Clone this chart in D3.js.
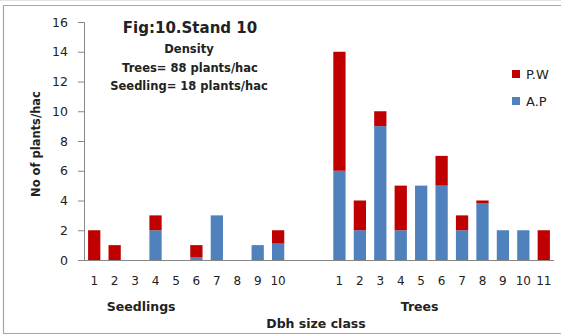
<!DOCTYPE html>
<html>
<head>
<meta charset="utf-8">
<script src="https://cdn.jsdelivr.net/npm/d3@7"></script>
<style>
  html, body { margin: 0; padding: 0; background: #fff; }
  svg { display: block; }
  text { font-family: "DejaVu Sans", "Noto Sans", sans-serif; fill: #222; }
</style>
</head>
<body>
<svg id="chart" width="561" height="334"></svg>
<script>
// Dbh size classes for each group
const seedlingClasses = ["1", "2", "3", "4", "5", "6", "7", "8", "9", "10"];
const treeClasses = ["1", "2", "3", "4", "5", "6", "7", "8", "9", "10", "11"];

// Plants per hectare by species
const seedlingAP = [0, 0, 0, 2, 0, 0.2, 3, 0, 1, 1.1];
const seedlingPW = [2, 1, 0, 1, 0, 0.8, 0, 0, 0, 0.9];
const treeAP = [6, 2, 9, 2, 5, 5, 2, 3.8, 2, 2, 0];
const treePW = [8, 2, 1, 3, 0, 2, 1, 0.2, 0, 0, 2];

const yTicks = [0, 2, 4, 6, 8, 10, 12, 14, 16];
const seriesNames = ["P.W", "A.P"];
const colors = { "A.P": "#4F81BD", "P.W": "#C00000" };
const gapSlots = 2;

// Build one row per slot on the category axis (blank slots separate the groups)
const rows = [];
seedlingClasses.forEach((c, i) => rows.push({ key: "s" + i, label: c, "A.P": seedlingAP[i], "P.W": seedlingPW[i] }));
for (let g = 0; g < gapSlots; g++) rows.push({ key: "g" + g, label: "", "A.P": 0, "P.W": 0 });
treeClasses.forEach((c, i) => rows.push({ key: "t" + i, label: c, "A.P": treeAP[i], "P.W": treePW[i] }));

const svg = d3.select("#chart");

// Outer frame
svg.append("line").attr("x1", 0).attr("x2", 561).attr("y1", 0.5).attr("y2", 0.5).attr("stroke", "#e4e4e4");
svg.append("path")
  .attr("d", "M561,5.5 H3.5 V333.5 H561")
  .attr("fill", "none").attr("stroke", "#a6a6a6").attr("stroke-width", 1.2);

const plot = { left: 84, right: 554, top: 22, bottom: 260 };

const x = d3.scaleBand()
  .domain(rows.map(d => d.key))
  .range([plot.left, plot.right])
  .paddingInner(0.4)
  .paddingOuter(0.2);

const y = d3.scaleLinear().domain([0, 16]).range([plot.bottom, plot.top]);

// Stacked bars: A.P at the base, P.W on top
const stack = d3.stack().keys(["A.P", "P.W"]);
const layers = stack(rows);

svg.append("g").selectAll("g")
  .data(layers)
  .join("g")
  .attr("fill", d => colors[d.key])
  .selectAll("rect")
  .data(d => d.filter(p => p[1] - p[0] > 0))
  .join("rect")
  .attr("x", d => x(d.data.key))
  .attr("width", x.bandwidth())
  .attr("y", d => y(d[1]))
  .attr("height", d => y(d[0]) - y(d[1]));

// Y axis
const yAxis = d3.axisLeft(y).tickValues(yTicks).tickSize(6).tickPadding(10);
const gy = svg.append("g").attr("transform", `translate(${plot.left},0)`).call(yAxis);
gy.select(".domain").attr("stroke", "#868686");
gy.selectAll(".tick line").attr("stroke", "#868686");
gy.selectAll(".tick text").attr("font-size", 12.5).attr("fill", "#222")
  .style("font-family", "'DejaVu Sans', sans-serif");

// X axis
const xAxis = d3.axisBottom(x).tickSize(0).tickPadding(16)
  .tickFormat(k => rows.find(r => r.key === k).label);
const gx = svg.append("g").attr("transform", `translate(0,${plot.bottom})`).call(xAxis);
gx.select(".domain").attr("stroke", "#868686").attr("d", `M${plot.left},0.5H${plot.right}`);
gx.selectAll(".tick text").attr("font-size", 12).attr("fill", "#222")
  .style("font-family", "'DejaVu Sans', sans-serif");

// Group labels under the categories
const centerOf = prefix => {
  const keys = rows.filter(r => r.key.startsWith(prefix)).map(r => r.key);
  return (x(keys[0]) + x(keys[keys.length - 1]) + x.bandwidth()) / 2;
};
svg.append("text").attr("x", centerOf("s") - 45).attr("y", 311)
  .attr("text-anchor", "middle").attr("font-size", 12.5).attr("font-weight", "bold")
  .text("Seedlings");
svg.append("text").attr("x", centerOf("t") - 22).attr("y", 311)
  .attr("text-anchor", "middle").attr("font-size", 12.5).attr("font-weight", "bold")
  .text("Trees");
svg.append("text").attr("x", 316).attr("y", 328)
  .attr("text-anchor", "middle").attr("font-size", 12.5).attr("font-weight", "bold")
  .text("Dbh size class");

// Y axis title
svg.append("text")
  .attr("transform", "translate(40,144) rotate(-90)")
  .attr("text-anchor", "middle").attr("font-size", 11.5).attr("font-weight", "bold")
  .text("No of plants/hac");

// Title block
const title = svg.append("g").attr("text-anchor", "middle");
title.append("text").attr("x", 190).attr("y", 33).attr("font-size", 15).attr("font-weight", "bold").text("Fig:10.Stand 10");
title.append("text").attr("x", 189).attr("y", 53).attr("font-size", 11.5).attr("font-weight", "bold").text("Density");
title.append("text").attr("x", 190).attr("y", 72).attr("font-size", 11.5).attr("font-weight", "bold").text("Trees= 88 plants/hac");
title.append("text").attr("x", 189).attr("y", 90).attr("font-size", 11.5).attr("font-weight", "bold").text("Seedling= 18 plants/hac");

// Legend
const legend = svg.append("g").attr("transform", "translate(512,70)");
seriesNames.forEach((name, i) => {
  const g = legend.append("g").attr("transform", `translate(0,${i * 27})`);
  g.append("rect").attr("width", 8).attr("height", 8).attr("fill", colors[name]);
  g.append("text").attr("x", 14).attr("y", 4).attr("dy", "0.35em").attr("font-size", 13).text(name);
});
</script>
</body>
</html>
